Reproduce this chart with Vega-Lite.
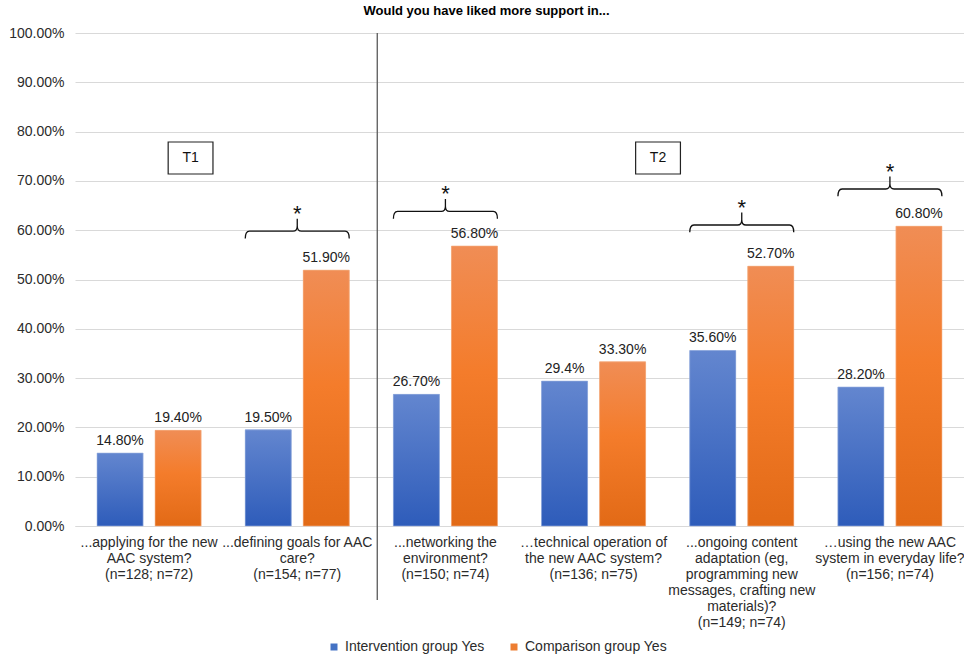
{
  "$schema": "https://vega.github.io/schema/vega-lite/v6.json",
  "width": 889,
  "height": 493,
  "autosize": {"type": "none"},
  "padding": {"left": 75, "top": 33, "right": 0, "bottom": 130},
  "background": "white",
  "title": {"text": "Would you have liked more support in...", "fontSize": 13, "fontWeight": "bold", "font": "Liberation Sans", "color": "#000", "anchor": "middle", "dx": -33, "offset": 8},
  "config": {
    "font": "Liberation Sans",
    "view": {"stroke": null},
    "axis": {"labelFont": "Liberation Sans", "labelColor": "#2b2b2b", "labelFontSize": 14, "title": null}
  },
  "datasets": {
    "bars": [
      {"cat": "c1", "group": "Intervention group Yes", "value": 0.148, "label": "14.80%"},
      {"cat": "c1", "group": "Comparison group Yes", "value": 0.194, "label": "19.40%"},
      {"cat": "c2", "group": "Intervention group Yes", "value": 0.195, "label": "19.50%"},
      {"cat": "c2", "group": "Comparison group Yes", "value": 0.519, "label": "51.90%"},
      {"cat": "c3", "group": "Intervention group Yes", "value": 0.267, "label": "26.70%"},
      {"cat": "c3", "group": "Comparison group Yes", "value": 0.568, "label": "56.80%"},
      {"cat": "c4", "group": "Intervention group Yes", "value": 0.294, "label": "29.4%"},
      {"cat": "c4", "group": "Comparison group Yes", "value": 0.333, "label": "33.30%"},
      {"cat": "c5", "group": "Intervention group Yes", "value": 0.356, "label": "35.60%"},
      {"cat": "c5", "group": "Comparison group Yes", "value": 0.527, "label": "52.70%"},
      {"cat": "c6", "group": "Intervention group Yes", "value": 0.282, "label": "28.20%"},
      {"cat": "c6", "group": "Comparison group Yes", "value": 0.608, "label": "60.80%"}
    ],
    "brackets": [
      {"cat": "c2", "value": 0.598},
      {"cat": "c3", "value": 0.638},
      {"cat": "c5", "value": 0.6105},
      {"cat": "c6", "value": 0.6836}
    ]
  },
  "encoding": {
    "x": {"field": "cat", "type": "nominal", "scale": {"domain": ["c1", "c2", "c3", "c4", "c5", "c6"], "paddingInner": 0, "paddingOuter": 0},
      "axis": {"labelAngle": 0, "domainColor": "#d9d9d9", "ticks": false, "labelPadding": 9, "labelLineHeight": 16, "labelBaseline": "top", "labelLimit": 250, "grid": false,
        "labelExpr": "datum.value=='c1'?['...applying for the new','AAC system?','(n=128; n=72)']:datum.value=='c2'?['...defining goals for AAC','care?','(n=154; n=77)']:datum.value=='c3'?['...networking the','environment?','(n=150; n=74)']:datum.value=='c4'?['…technical operation of','the new AAC system?','(n=136; n=75)']:datum.value=='c5'?['...ongoing content','adaptation (eg,','programming new','messages, crafting new','materials)?','(n=149; n=74)']:['…using the new AAC','system in everyday life?','(n=156; n=74)']"}},
    "y": {"field": "value", "type": "quantitative", "scale": {"domain": [0, 1], "nice": false},
      "axis": {"format": ".2%", "values": [0, 0.1, 0.2, 0.3, 0.4, 0.5, 0.6, 0.7, 0.8, 0.9, 1], "grid": true, "gridColor": "#d9d9d9", "domain": false, "ticks": false, "labelPadding": 11, "labelOverlap": false}}
  },
  "layer": [
    {
      "data": {"name": "bars"},
      "mark": {"type": "bar"},
      "encoding": {
        "xOffset": {"field": "group", "type": "nominal", "scale": {"domain": ["Intervention group Yes", "Comparison group Yes"], "paddingInner": 0.207, "paddingOuter": 0.38}},
        "color": {"field": "group", "type": "nominal", "scale": {"domain": ["Intervention group Yes", "Comparison group Yes"], "range": ["#4472C4", "#ED7D31"]},
          "legend": {"orient": "none", "legendX": 252, "legendY": 607, "direction": "horizontal", "title": null, "symbolType": "square", "symbolSize": 49, "labelFontSize": 14, "labelColor": "#2b2b2b", "columnPadding": 22, "labelOffset": 4, "padding": 0}}
      }
    },
    {
      "data": {"name": "bars"},
      "transform": [{"filter": "datum.group == 'Intervention group Yes'"}],
      "mark": {"type": "bar", "stroke": "#9db3e0", "strokeWidth": 0.6, "color": {"gradient": "linear", "x1": 0, "y1": 0, "x2": 0, "y2": 1, "stops": [{"offset": 0, "color": "#6386CF"}, {"offset": 1, "color": "#2E5CBA"}]}},
      "encoding": {
        "xOffset": {"field": "group", "type": "nominal"}
      }
    },
    {
      "data": {"name": "bars"},
      "transform": [{"filter": "datum.group == 'Comparison group Yes'"}],
      "mark": {"type": "bar", "stroke": "#f5b48a", "strokeWidth": 0.6, "color": {"gradient": "linear", "x1": 0, "y1": 0, "x2": 0, "y2": 1, "stops": [{"offset": 0, "color": "#F08D55"}, {"offset": 0.45, "color": "#F47C2B"}, {"offset": 1, "color": "#E26A16"}]}},
      "encoding": {
        "xOffset": {"field": "group", "type": "nominal"}
      }
    },
    {
      "data": {"name": "bars"},
      "mark": {"type": "text", "baseline": "middle", "dy": -12, "fontSize": 14, "color": "#222"},
      "encoding": {
        "xOffset": {"field": "group", "type": "nominal"},
        "text": {"field": "label"}
      }
    },
    {
      "data": {"values": [{"cat": "c2", "value": 1, "bottom": -0.15}]},
      "mark": {"type": "rule", "color": "#595959", "strokeWidth": 1.3},
      "encoding": {
        "x": {"field": "cat", "type": "nominal", "bandPosition": 1.04},
        "y2": {"field": "bottom"}
      }
    },
    {
      "data": {"values": [{"cat": "c1", "value": 0.7465, "tag": "T1"}]},
      "mark": {"type": "point", "shape": "M-1.4,-1H1.4V1H-1.4Z", "size": 1024, "filled": false, "stroke": "#222", "strokeWidth": 1.2, "opacity": 1},
      "encoding": {
        "x": {"field": "cat", "type": "nominal", "bandPosition": 0.78}
      }
    },
    {
      "data": {"values": [{"cat": "c1", "value": 0.7465, "tag": "T1"}]},
      "mark": {"type": "text", "fontSize": 14, "baseline": "middle", "color": "#111"},
      "encoding": {
        "x": {"field": "cat", "type": "nominal", "bandPosition": 0.78},
        "text": {"field": "tag"}
      }
    },
    {
      "data": {"values": [{"cat": "c4", "value": 0.7465, "tag": "T2"}]},
      "mark": {"type": "point", "shape": "M-1.4,-1H1.4V1H-1.4Z", "size": 1024, "filled": false, "stroke": "#222", "strokeWidth": 1.2, "opacity": 1},
      "encoding": {
        "x": {"field": "cat", "type": "nominal", "bandPosition": 0.935}
      }
    },
    {
      "data": {"values": [{"cat": "c4", "value": 0.7465, "tag": "T2"}]},
      "mark": {"type": "text", "fontSize": 14, "baseline": "middle", "color": "#111"},
      "encoding": {
        "x": {"field": "cat", "type": "nominal", "bandPosition": 0.935},
        "text": {"field": "tag"}
      }
    },
    {
      "data": {"name": "brackets"},
      "mark": {"type": "point", "shape": "M-1,0.14Q-1,0 -0.92,0L-0.08,0Q0,0 0,-0.1L0,-0.24M0,-0.1Q0,0 0.08,0L0.92,0Q1,0 1,0.14", "size": 10816, "filled": false, "stroke": "#111", "strokeWidth": 1.3, "opacity": 1},
      "encoding": {}
    },
    {
      "data": {"name": "brackets"},
      "mark": {"type": "text", "text": "*", "fontSize": 22, "baseline": "alphabetic", "dy": -10, "color": "#111"},
      "encoding": {}
    }
  ]
}
